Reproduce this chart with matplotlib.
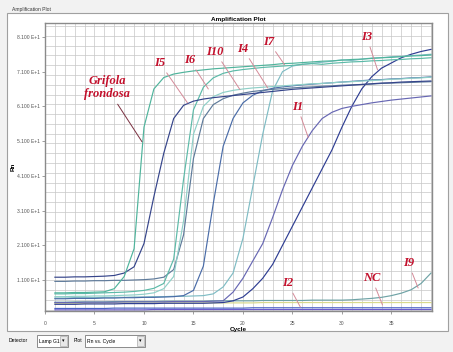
import numpy as np
import matplotlib
matplotlib.use("Agg")
import matplotlib.pyplot as plt
from matplotlib.patches import Rectangle

W, H = 453, 352

cycles = list(range(1, 40))

grifola = [7.3, 7.3, 7.4, 7.4, 7.5, 7.6, 8.5, 12.0, 20.0, 55.0, 66.0, 69.3, 70.3, 70.8,
           71.2, 71.5, 71.8, 72.0, 72.2, 72.4, 72.6, 72.8, 73.0, 73.3, 73.4, 73.6, 73.8,
           74.0, 74.1, 74.3, 74.5, 74.6, 74.8, 75.0, 75.1, 75.3, 75.5, 75.6, 75.8]
i5 = [11.8, 11.8, 11.9, 11.9, 12.0, 12.1, 12.3, 13.0, 14.8, 21.5, 35.0, 47.5, 57.5, 61.3,
      62.5, 63.1, 63.5, 63.8, 64.1, 64.4, 64.7, 65.0, 65.3, 65.6, 65.9, 66.1, 66.3,
      66.5, 66.7, 66.9, 67.1, 67.3, 67.5, 67.7, 67.8, 68.0, 68.1, 68.2, 68.3]
i6 = [7.0, 7.0, 7.1, 7.1, 7.2, 7.3, 7.4, 7.5, 7.7, 8.0, 8.6, 10.0, 17.0, 40.0,
      60.0, 66.5, 69.2, 70.5, 71.2, 71.6, 71.9, 72.2, 72.4, 72.6, 72.8, 73.1, 73.3,
      73.1, 73.4, 73.6, 73.8, 73.9, 74.1, 74.2, 74.4, 74.5, 74.7, 74.8, 75.0]
i8 = [6.2, 6.2, 6.3, 6.3, 6.4, 6.4, 6.5, 6.6, 6.7, 6.9, 7.3, 8.5, 12.0, 28.0,
      53.0, 61.0, 63.8, 65.0, 65.6, 66.0, 66.3, 66.5, 66.7, 66.9, 67.1, 67.3, 67.5,
      67.6, 67.8, 68.0, 68.1, 68.3, 68.4, 68.6, 68.8, 68.9, 69.1, 69.2, 69.4]
i10 = [10.6, 10.6, 10.7, 10.7, 10.8, 10.8, 10.9, 10.9, 11.0, 11.1, 11.3, 11.8, 14.0, 24.0,
       46.0, 57.5, 61.5, 63.2, 64.2, 64.8, 65.3, 65.6, 65.9, 66.1, 66.3, 66.5, 66.6,
       66.8, 66.9, 67.1, 67.2, 67.3, 67.4, 67.6, 67.7, 67.8, 67.9, 68.0, 68.1]
i4 = [5.6, 5.6, 5.7, 5.7, 5.7, 5.8, 5.8, 5.9, 5.9, 6.0, 6.0, 6.1, 6.2, 6.5,
      8.0, 15.0, 33.0, 49.5, 57.5, 62.0, 64.2, 65.5, 66.2, 66.6, 66.9, 67.2, 67.4,
      67.6, 67.8, 68.0, 68.2, 68.4, 68.6, 68.7, 68.9, 69.0, 69.2, 69.3, 69.5]
i7 = [5.8, 5.8, 5.9, 5.9, 5.9, 6.0, 6.0, 6.0, 6.1, 6.1, 6.2, 6.2, 6.3, 6.3,
      6.4, 6.5, 7.0, 9.0, 13.0, 23.0, 38.0, 53.0, 65.5, 71.0, 72.6, 73.1, 73.4,
      73.7, 74.0, 74.4, 74.2, 74.6, 74.9, 75.0, 75.3, 75.4, 75.6, 75.8, 76.0]
i1 = [4.5, 4.5, 4.5, 4.6, 4.6, 4.6, 4.6, 4.7, 4.7, 4.7, 4.7, 4.7, 4.8, 4.8,
      4.8, 4.8, 4.9, 5.0, 7.5, 11.5, 16.5, 21.5, 29.0, 37.0, 44.0, 49.5, 54.0,
      57.5, 59.3, 60.4, 61.0, 61.5, 62.0, 62.4, 62.8, 63.1, 63.4, 63.7, 64.0]
i3 = [4.0, 4.0, 4.0, 4.1, 4.1, 4.1, 4.1, 4.2, 4.2, 4.2, 4.2, 4.3, 4.3, 4.3,
      4.3, 4.3, 4.4, 4.5, 5.0, 6.1, 8.5, 11.5, 15.5, 21.0, 26.5, 32.0, 37.5,
      43.0, 48.5, 55.0, 61.0, 66.0, 69.5, 72.0, 73.5, 75.0, 76.0, 76.8, 77.4]
i9 = [4.6, 4.6, 4.7, 4.7, 4.7, 4.7, 4.8, 4.8, 4.8, 4.8, 4.8, 4.9, 4.9, 4.9,
      4.9, 4.9, 5.0, 5.0, 5.0, 5.0, 5.0, 5.1, 5.1, 5.1, 5.1, 5.1, 5.2, 5.2,
      5.2, 5.2, 5.3, 5.5, 5.7, 6.0, 6.5, 7.2, 8.2, 10.0, 13.0]
nc = [4.3, 4.3, 4.3, 4.3, 4.4, 4.4, 4.4, 4.4, 4.4, 4.4, 4.4, 4.4, 4.4, 4.4,
      4.4, 4.4, 4.4, 4.4, 4.4, 4.4, 4.4, 4.5, 4.5, 4.5, 4.5, 4.5, 4.5, 4.5,
      4.5, 4.5, 4.5, 4.5, 4.5, 4.5, 4.5, 4.5, 4.5, 4.5, 4.5]
i2 = [2.8, 2.8, 2.8, 2.8, 2.8, 2.8, 2.9, 2.9, 2.9, 2.9, 2.9, 2.9, 2.9, 2.9,
      2.9, 2.9, 2.9, 2.9, 2.9, 2.9, 3.0, 3.0, 3.0, 3.0, 3.0, 3.0, 3.0, 3.0,
      3.0, 3.0, 3.0, 3.0, 3.0, 3.0, 3.0, 3.0, 3.0, 3.0, 3.0]
i12 = [2.4, 2.4, 2.4, 2.4, 2.4, 2.4, 2.4, 2.4, 2.4, 2.4, 2.5, 2.5, 2.5, 2.5,
       2.5, 2.5, 2.5, 2.5, 2.5, 2.5, 2.5, 2.5, 2.5, 2.5, 2.5, 2.5, 2.5, 2.5,
       2.5, 2.5, 2.5, 2.5, 2.5, 2.5, 2.5, 2.5, 2.5, 2.5, 2.5]

series = [
    (nc, "#d9d98c"), (i12, "#6a5acd"), (i2, "#4a62c4"), (i9, "#6fa3a6"),
    (i3, "#2e3d92"), (i1, "#6767b3"), (i7, "#7fbcc4"), (i4, "#4a6ca8"),
    (i10, "#5e7a9a"), (i8, "#8fd0c8"), (i6, "#5cbaa8"), (i5, "#35448a"),
    (grifola, "#4fb49c"),
]

y_ticks = [11, 21, 31, 41, 51, 61, 71, 81]
x_ticks = [0, 5, 10, 15, 20, 25, 30, 35]

# label, text position, pointed point
labels = [
    ("Grifola\nfrondosa", (6.25, 66.4), (9.8, 50.8)),
    ("I5", (11.6, 73.5), (14.4, 62.0)),
    ("I6", (14.6, 74.4), (16.5, 66.0)),
    ("I10", (17.2, 76.7), (19.7, 65.8)),
    ("I4", (20.0, 77.6), (22.5, 66.3)),
    ("I7", (22.6, 79.6), (24.2, 73.0)),
    ("I3", (32.5, 81.0), (33.6, 71.5)),
    ("I1", (25.5, 60.9), (26.6, 52.0)),
    ("I2", (24.5, 10.1), (25.8, 3.2)),
    ("NC", (33.0, 11.6), (34.1, 3.8)),
    ("I9", (36.7, 15.9), (37.7, 8.7)),
]

ui = "Liberation Sans"

fig = plt.figure(figsize=(W / 100, H / 100), dpi=100, facecolor="#f2f2f2")


def fx(x):
    return x / W


def fy(y):
    return 1 - y / H


# white panel and frame, behind the axes
fig.patches.append(Rectangle((fx(7), fy(331)), fx(441), 318 / H, transform=fig.transFigure,
                             facecolor="white", edgecolor="#a0a0a0", lw=0.8, zorder=-5))
fig.text(fx(12), fy(9), "Amplification Plot", fontsize=3.6, family=ui, va="center", color="#333333")

ax = fig.add_axes([fx(45), fy(311), (432 - 45) / W, (311 - 23) / H])
ax.set_zorder(2)
ax.set_facecolor("white")

for vals, col in series:
    ax.plot(cycles, vals, color=col, lw=0.85)

ax.set_xlim(0, 39.1)
ax.set_ylim(2.07, 85.0)

for c in range(0, 40):
    ax.axvline(c, color="#c6c6c6", lw=0.5, zorder=0)
for g in np.arange(84.1, 2.0, -2.815):
    ax.axhline(g, color="#c6c6c6", lw=0.5, zorder=0)

ax.set_xticks(x_ticks)
ax.set_xticklabels([str(v) for v in x_ticks], fontsize=3.6, family=ui, color="#555555")
ax.set_yticks(y_ticks)
ax.set_yticklabels([f"{v / 10:.3f} E+1" for v in y_ticks], fontsize=3.6, family=ui, color="#555555")
ax.tick_params(length=2, width=0.5, color="#777777", pad=1.5)
ax.tick_params(axis="x", pad=5)
for s in ax.spines.values():
    s.set_color("#8a8a8a")
    s.set_linewidth(1.0)

ax.set_title("Amplification Plot", fontsize=4.6, family=ui, weight="bold", pad=1.5)
ax.set_xlabel("Cycle", fontsize=4.6, family=ui, weight="bold", labelpad=1.0)
ax.set_ylabel("Rn", fontsize=4.6, family=ui, weight="bold")
ax.yaxis.set_label_coords((16 - 45) / 387, (311 - 167) / 288)

for txt, tpos, pt in labels:
    dark = txt.startswith("Grifola")
    ax.annotate(txt, xy=pt, xytext=tpos, ha="center", va="center",
                fontsize=9, family="Liberation Serif", weight="bold", style="italic",
                color="#c3102c", linespacing=1.15,
                arrowprops=dict(arrowstyle="-", color="#7a3040" if dark else "#d48a98",
                                lw=0.7, shrinkA=1, shrinkB=0))

# bottom toolbar
fig.text(fx(9), fy(341), "Detector", fontsize=3.6, family=ui, va="center")
fig.patches.append(Rectangle((fx(37), fy(347)), fx(31), 12 / H, transform=fig.transFigure,
                             facecolor="white", edgecolor="#7a7a7a", lw=0.6))
fig.text(fx(39), fy(341), "Lamp G1", fontsize=3.6, family=ui, va="center")
fig.patches.append(Rectangle((fx(60), fy(346)), fx(7), 10 / H, transform=fig.transFigure,
                             facecolor="#e8e8e8", edgecolor="#9a9a9a", lw=0.4))
fig.text(fx(63.5), fy(341), "▾", fontsize=3.6, ha="center", va="center")
fig.text(fx(74), fy(341), "Plot", fontsize=3.6, family=ui, va="center")
fig.patches.append(Rectangle((fx(85), fy(347)), fx(60), 12 / H, transform=fig.transFigure,
                             facecolor="white", edgecolor="#7a7a7a", lw=0.6))
fig.text(fx(87), fy(341), "Rn vs. Cycle", fontsize=3.6, family=ui, va="center")
fig.patches.append(Rectangle((fx(137), fy(346)), fx(7), 10 / H, transform=fig.transFigure,
                             facecolor="#e8e8e8", edgecolor="#9a9a9a", lw=0.4))
fig.text(fx(140.5), fy(341), "▾", fontsize=3.6, ha="center", va="center")

fig.savefig("out.png", dpi=100, facecolor=fig.get_facecolor())
